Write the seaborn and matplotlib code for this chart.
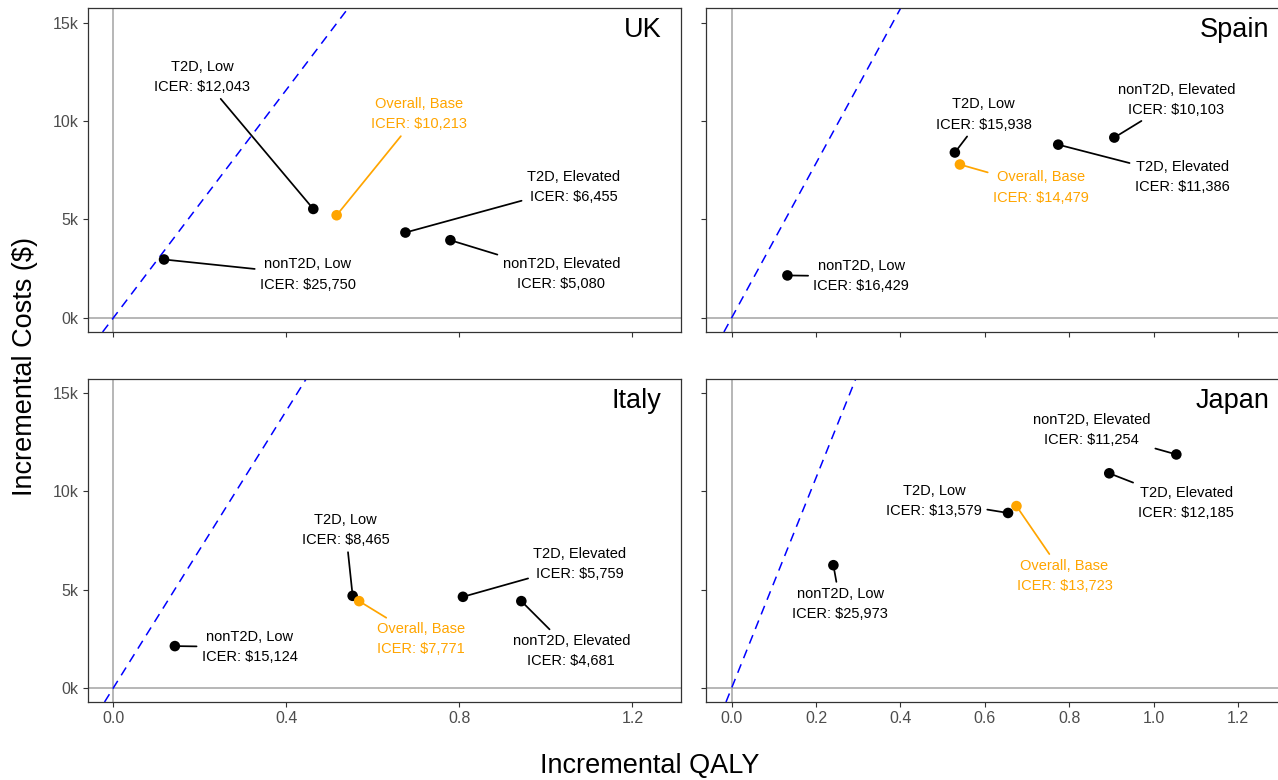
import numpy as np
import pandas as pd
import matplotlib
matplotlib.use("Agg")
import matplotlib.pyplot as plt
import seaborn as sns

# ---------------- data ----------------
countries = ["UK", "Spain", "Italy", "Japan"]
groups = ["T2D, Low", "Overall, Base", "T2D, Elevated", "nonT2D, Elevated", "nonT2D, Low"]

qaly_uk = [0.462, 0.516, 0.675, 0.779, 0.117]
cost_uk = [5530, 5210, 4330, 3940, 2960]
icer_uk = [12043, 10213, 6455, 5080, 25750]

qaly_spain = [0.529, 0.541, 0.774, 0.907, 0.132]
cost_spain = [8400, 7790, 8800, 9160, 2150]
icer_spain = [15938, 14479, 11386, 10103, 16429]

qaly_italy = [0.553, 0.568, 0.808, 0.943, 0.142]
cost_italy = [4680, 4410, 4630, 4410, 2120]
icer_italy = [8465, 7771, 5759, 4681, 15124]

qaly_japan = [0.655, 0.675, 0.895, 1.054, 0.241]
cost_japan = [8900, 9250, 10920, 11880, 6240]
icer_japan = [13579, 13723, 12185, 11254, 25973]

wtp_threshold = [29000, 39300, 35300, 53500]

y_ticks = [0, 5000, 10000, 15000]
y_tick_labels = ["0k", "5k", "10k", "15k"]
x_ticks_left = [0.0, 0.4, 0.8, 1.2]
x_ticks_right = [0.0, 0.2, 0.4, 0.6, 0.8, 1.0, 1.2]

qalys = [qaly_uk, qaly_spain, qaly_italy, qaly_japan]
costs = [cost_uk, cost_spain, cost_italy, cost_japan]
icers = [icer_uk, icer_spain, icer_italy, icer_japan]

rows = []
for c, q, k, ic in zip(countries, qalys, costs, icers):
    for g, qq, kk, ii in zip(groups, q, k, ic):
        rows.append(dict(country=c, group=g, qaly=qq, cost=kk, icer=ii,
                         kind="Overall" if g.startswith("Overall") else "Sub"))
df = pd.DataFrame(rows)

# ---------------- layout / style ----------------
# label offsets (pixels) from each point to its text centre (layout only)
label_offsets = {
    "UK":    [(-111, 132), (82, 101), (168, 46), (111, -34), (144, -15)],
    "Spain": [(29, 38), (81, -23), (124, -32), (62, 38), (74, -1)],
    "Italy": [(-7, 66), (62, -38), (117, 33), (50, -50), (75, -1)],
    "Japan": [(-74, 12), (48, -70), (77, -30), (-85, 24), (7, -39)],
}

sns.set_theme(style="white")
plt.rcParams["font.family"] = ["Liberation Sans", "DejaVu Sans"]

W, H = 1278, 780
fig = plt.figure(figsize=(W / 100, H / 100), dpi=100)

panel_px = {
    "UK":    (87.5, 8, 680.5, 332),
    "Spain": (706, 8, 1286, 332),
    "Italy": (87.5, 378.5, 680.5, 702),
    "Japan": (706, 378.5, 1286, 702),
}
xlims = {"left": (-0.060, 1.311), "right": (-0.061, 1.314)}
ylim = (-727, 15748)

BLACK = "#000000"
ORANGE = "#FFA500"
GREY_REF = "#A3A3A3"
BORDER = "#333333"

for i, country in enumerate(countries):
    l, t, r, b = panel_px[country]
    ax = fig.add_axes([l / W, 1 - b / H, (r - l) / W, (b - t) / H])
    side = "left" if country in ("UK", "Italy") else "right"
    top = country in ("UK", "Spain")

    ax.set_xlim(*xlims[side])
    ax.set_ylim(*ylim)

    ax.axhline(0, color=GREY_REF, lw=1.1, zorder=1)
    ax.axvline(0, color=GREY_REF, lw=1.1, zorder=1)
    ax.axline((0, 0), slope=wtp_threshold[i], color="#0000FF", lw=1.1,
              linestyle=(0, (6.0, 4.3)), zorder=2)

    sub = df[df.country == country].reset_index(drop=True)
    sns.scatterplot(data=sub, x="qaly", y="cost", hue="kind",
                    palette={"Overall": ORANGE, "Sub": BLACK},
                    s=58, linewidth=0, legend=False, ax=ax, zorder=5)

    for j, row in sub.iterrows():
        col = ORANGE if row.kind == "Overall" else BLACK
        txt = f"{row.group}\nICER: ${row.icer:,.0f}"
        dx, dy = label_offsets[country][j]
        ax.annotate(txt, xy=(row.qaly, row.cost), xytext=(dx, dy),
                    textcoords="offset pixels", ha="center", va="center",
                    fontsize=10.5, color=col, linespacing=1.55, zorder=6,
                    arrowprops=dict(arrowstyle="-", color=col, lw=1.25,
                                    shrinkA=1.5, shrinkB=2))

    # facet title inside the panel
    ax.annotate(country, xy=(1, 1), xycoords="axes fraction",
                xytext=(-19 if side == "left" else -17, -9),
                textcoords="offset pixels", ha="right", va="top",
                fontsize=19.5, color="black")

    ax.set_yticks(y_ticks)
    ax.set_yticklabels(y_tick_labels if side == "left" else [])
    xt = x_ticks_left if side == "left" else x_ticks_right
    ax.set_xticks(xt)
    ax.set_xticklabels([f"{v:.1f}" for v in xt] if not top else [])
    ax.set_xlabel("")
    ax.set_ylabel("")

    ax.tick_params(axis="both", which="both", direction="out", length=3.8,
                   width=0.8, color=BORDER, labelsize=11.5, labelcolor="#4D4D4D",
                   bottom=True, left=True, pad=2.5)
    for s in ax.spines.values():
        s.set_visible(True)
        s.set_color(BORDER)
        s.set_linewidth(0.9)
    ax.grid(False)

fig.text(25 / W, 1 - 366 / H, "Incremental Costs ($)", rotation=90,
         ha="center", va="center", fontsize=19.5, color="black")
fig.text(650 / W, 1 - 766 / H, "Incremental QALY",
         ha="center", va="center", fontsize=19.5, color="black")

fig.savefig("out.png", dpi=100, facecolor="white")
